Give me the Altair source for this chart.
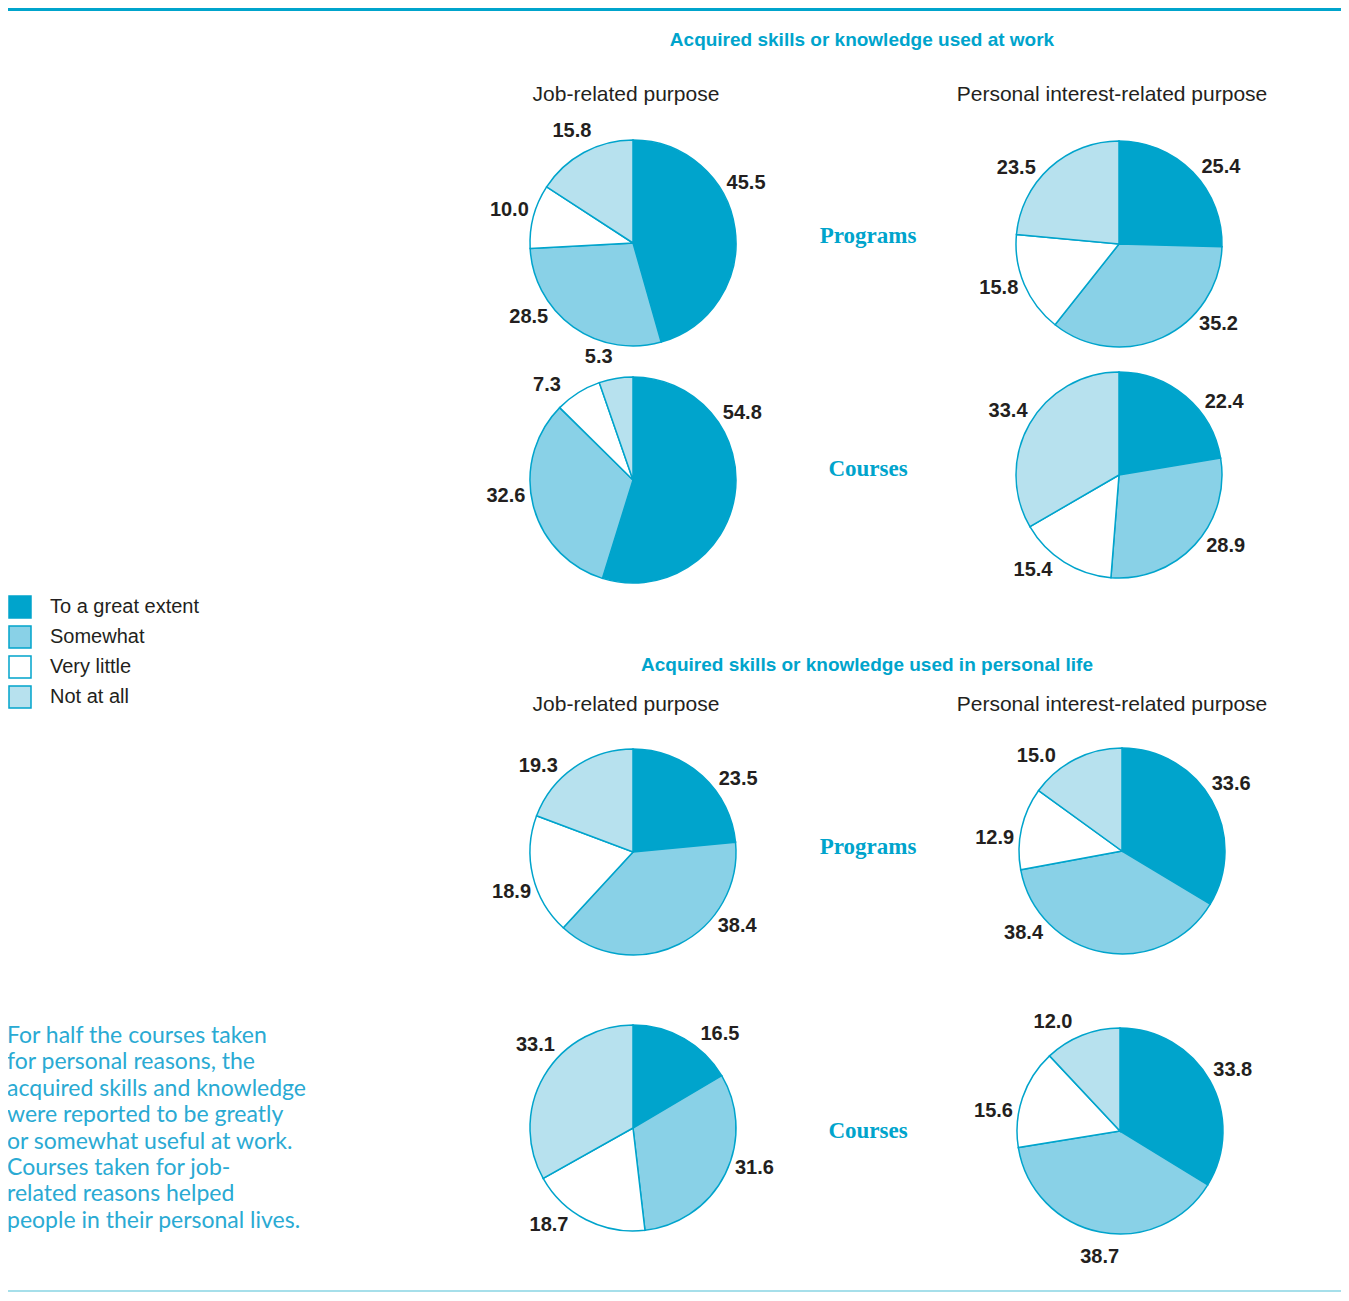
import altair as alt
import pandas as pd

# ---------------- data ----------------
categories = ["To a great extent", "Somewhat", "Very little", "Not at all"]

pie_keys = ["work_job_prog", "work_pers_prog", "work_job_course", "work_pers_course",
            "life_job_prog", "life_pers_prog", "life_job_course", "life_pers_course"]

work_job_programs = [45.5, 28.5, 10.0, 15.8]
work_personal_programs = [25.4, 35.2, 15.8, 23.5]
work_job_courses = [54.8, 32.6, 7.3, 5.3]
work_personal_courses = [22.4, 28.9, 15.4, 33.4]
life_job_programs = [23.5, 38.4, 18.9, 19.3]
life_personal_programs = [33.6, 38.4, 12.9, 15.0]
life_job_courses = [16.5, 31.6, 18.7, 33.1]
life_personal_courses = [33.8, 38.7, 15.6, 12.0]

pie_values = [work_job_programs, work_personal_programs, work_job_courses, work_personal_courses,
              life_job_programs, life_personal_programs, life_job_courses, life_personal_courses]

section_titles = ["Acquired skills or knowledge used at work",
                  "Acquired skills or knowledge used in personal life"]
column_headers = ["Job-related purpose", "Personal interest-related purpose"]
row_labels = ["Programs", "Courses"]
note_lines = ["For half the courses taken",
              "for personal reasons, the",
              "acquired skills and knowledge",
              "were reported to be greatly",
              "or somewhat useful at work.",
              "Courses taken for job-",
              "related reasons helped",
              "people in their personal lives."]

# ---------------- styles / layout (page pixels) ----------------
TEAL = "#00a4cc"
colors = ["#00a4cc", "#89d1e7", "#ffffff", "#b7e1ee"]
DARK = "#231f20"
NOTE = "#2aaad3"
SANS = "Liberation Sans, Arial, sans-serif"
SERIF = "Liberation Serif, DejaVu Serif, serif"

pie_centers = [(633, 243), (1119, 244), (633, 480), (1119, 475),
               (633, 852), (1122, 851), (633, 1128), (1120, 1131)]
# angular nudge (degrees) of each slice label away from the slice's mid-angle
label_shift = [[-20, 19, 0, 0], [7, -26, 3, -11], [-40, 7, -10, -6], [15, -9, 10, 0],
               [13, -28, -5, -13], [-2, 40, -7, -15], [13, -8, 14, 10], [1, -2, -10, -10]]
title_pos = [(862, 40), (867, 665)]
header_pos = [(626, 95), (1112, 95), (626, 705), (1112, 705)]
rowlabel_pos = [(868, 236), (868, 469), (868, 847), (868, 1131)]
note_pos = (7, 1036)

W, H = 1333, 1285
xs = alt.Scale(domain=[8, 8 + W], range=[0, W])
ys = alt.Scale(domain=[8, 8 + H], range=[0, H])
theta_scale = alt.Scale(domain=[0, 1], range=[0, 6.283185307179586])


def X(f="px"):
    return alt.X(f"{f}:Q", scale=xs, axis=None)


def Y(f="py"):
    return alt.Y(f"{f}:Q", scale=ys, axis=None)


# ---------------- tables ----------------
rows = []
for key, vals, (cx, cy), shifts in zip(pie_keys, pie_values, pie_centers, label_shift):
    for i, (cat, v, s) in enumerate(zip(categories, vals, shifts)):
        rows.append({"pie": key, "category": cat, "order": i, "value": v,
                     "px": cx, "py": cy, "shift": s})
pie_df = pd.DataFrame(rows)

titles_df = pd.DataFrame([{"text": t, "px": p[0], "py": p[1]} for t, p in zip(section_titles, title_pos)])
headers_df = pd.DataFrame([{"text": column_headers[i % 2], "px": p[0], "py": p[1]}
                           for i, p in enumerate(header_pos)])
rowlab_df = pd.DataFrame([{"text": row_labels[i % 2], "px": p[0], "py": p[1]}
                          for i, p in enumerate(rowlabel_pos)])

base = alt.Chart(pie_df).transform_stack(
    stack="value", groupby=["pie"], as_=["t0", "t1"],
    sort=[alt.SortField("order", order="ascending")], offset="normalize"
).transform_calculate(lab="(datum.t0 + datum.t1) / 2 + datum.shift / 360")

arcs = base.mark_arc(outerRadius=103, stroke=TEAL, strokeWidth=1.5).encode(
    x=X(), y=Y(),
    theta=alt.Theta("t0:Q", scale=theta_scale, stack=None),
    theta2="t1:Q",
    fill=alt.Fill("category:N", scale=alt.Scale(domain=categories, range=colors),
                  legend=alt.Legend(orient="none", legendX=0, legendY=587, title=None,
                                    symbolType="square", symbolSize=484,
                                    symbolStrokeColor=TEAL, symbolStrokeWidth=1.5,
                                    symbolOpacity=1, labelFont=SANS, labelFontSize=20,
                                    labelColor=DARK, rowPadding=2, labelOffset=18,
                                    padding=0)),
    order=alt.Order("order:Q"),
)

labels = base.mark_text(radius=128, font=SANS, fontSize=20, fontWeight="bold",
                        color=DARK, align="center", baseline="middle").encode(
    x=X(), y=Y(),
    theta=alt.Theta("lab:Q", scale=theta_scale, stack=None),
    text=alt.Text("value:Q", format=".1f"),
)

titles = alt.Chart(titles_df).mark_text(font=SANS, fontSize=19, fontWeight="bold", color=TEAL,
                                        align="center", baseline="middle").encode(
    x=X(), y=Y(), text="text:N")

headers = alt.Chart(headers_df).mark_text(font=SANS, fontSize=21, color=DARK,
                                          align="center", baseline="middle").encode(
    x=X(), y=Y(), text="text:N")

rowlabs = alt.Chart(rowlab_df).mark_text(font=SERIF, fontSize=23, fontWeight="bold", color=TEAL,
                                         align="center", baseline="middle").encode(
    x=X(), y=Y(), text="text:N")

note = alt.Chart(pd.DataFrame([{"px": note_pos[0], "py": note_pos[1]}])).mark_text(
    font="Lato, Open Sans, sans-serif", fontSize=23, color=NOTE, align="left",
    baseline="middle", lineHeight=26.4).encode(
    x=X(), y=Y(), text=alt.value(note_lines))

top_rule = alt.Chart(pd.DataFrame([{"px": 8, "px2": 8 + W, "py": 9.5}])).mark_rule(
    color="#00a4cc", strokeWidth=3).encode(x=X(), x2="px2:Q", y=Y())

bottom_rule = alt.Chart(pd.DataFrame([{"px": 8, "px2": 8 + W, "py": 1291}])).mark_rule(
    color="#a6dfea", strokeWidth=2).encode(x=X(), x2="px2:Q", y=Y())

chart = alt.layer(top_rule, bottom_rule, arcs, labels, titles, headers, rowlabs, note).properties(
    width=W, height=H, padding=0, autosize=alt.AutoSizeParams(type="none")
).configure_view(stroke=None)

chart.save("out.html", embed_options={"renderer": "svg", "actions": False})
